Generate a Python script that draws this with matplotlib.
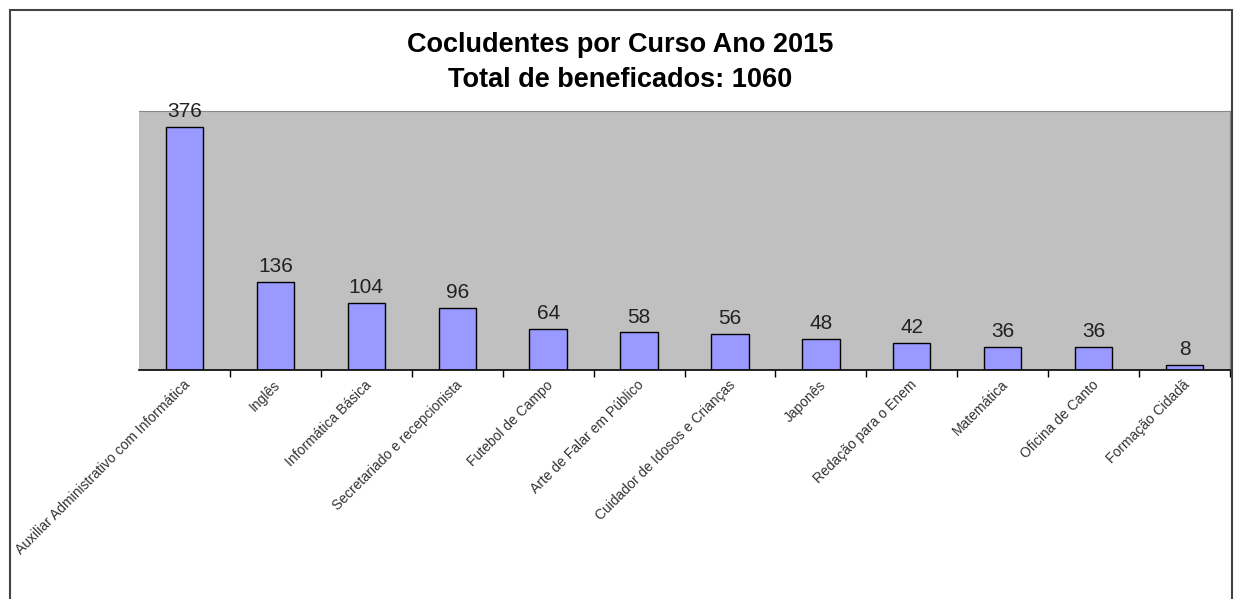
import matplotlib
matplotlib.use("Agg")
import matplotlib.pyplot as plt
from matplotlib.patches import Rectangle

plt.rcParams['font.family'] = ['Liberation Sans', 'DejaVu Sans']

cursos = ["Auxiliar Administrativo com Informática", "Inglês", "Informática Básica",
          "Secretariado e recepcionista", "Futebol de Campo", "Arte de Falar em Público",
          "Cuidador de Idosos e Crianças", "Japonês", "Redação para o Enem",
          "Matemática", "Oficina de Canto", "Formação Cidadã"]
concluintes = [376, 136, 104, 96, 64, 58, 56, 48, 42, 36, 36, 8]

fig = plt.figure(figsize=(12.39, 5.99), dpi=100)
W, H = 1239, 599
ax = fig.add_axes([139 / W, 1 - 370 / H, (1230 - 139) / W, (370 - 111) / H])

# moldura externa
fig.patches.append(Rectangle((10 / W, -0.1), (1232 - 10) / W, 1.1 - 10 / H,
                             transform=fig.transFigure, fill=False,
                             edgecolor='#444444', linewidth=1.5))

x = range(len(cursos))
ax.bar(x, concluintes, width=0.41, color='#9999ff', edgecolor='black', linewidth=1)
ax.set_facecolor('#c0c0c0')
ax.set_xlim(-0.5, len(cursos) - 0.5)
ax.set_ylim(0, 400)
ax.set_yticks([])

for i, v in enumerate(concluintes):
    ax.text(i, v + 9, str(v), ha='center', va='bottom', fontsize=15, color='#222222')

ax.set_xticks([i + 0.5 for i in range(len(cursos))])
ax.set_xticklabels([])
ax.tick_params(axis='x', direction='out', length=5, width=1)
for i, c in enumerate(cursos):
    ax.text(i - 0.02, -12, c, rotation=45, ha='right', va='top', rotation_mode='anchor',
            fontsize=10, color='#333333')

for s in ['top', 'right']:
    ax.spines[s].set_color('#888888')
ax.spines['left'].set_visible(False)
ax.spines['bottom'].set_linewidth(1.2)

fig.text(0.5005, 1 - 45 / H, "Cocludentes por Curso Ano 2015", ha='center', va='center',
         fontsize=19.5, fontweight='bold')
fig.text(0.5005, 1 - 80 / H, "Total de beneficados: 1060", ha='center', va='center',
         fontsize=19.5, fontweight='bold')

fig.savefig("out.png", dpi=100)
